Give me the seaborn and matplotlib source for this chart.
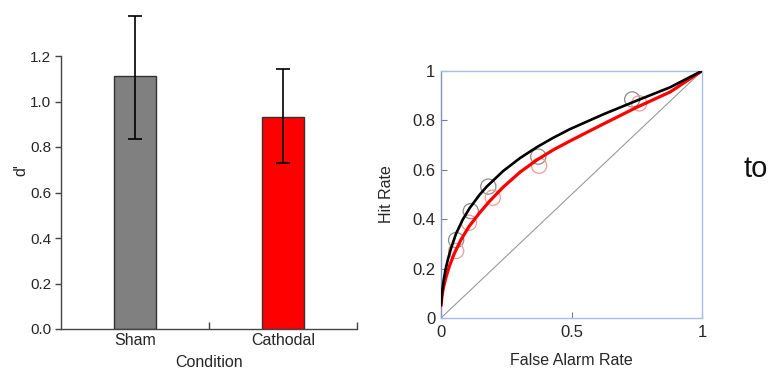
import matplotlib
matplotlib.use("Agg")
import matplotlib.pyplot as plt
import seaborn as sns
import pandas as pd

# Sensitivity (d') per condition with error-bar limits
conditions = ["Sham", "Cathodal"]
dprime = [1.112, 0.933]
err_top = [1.377, 1.141]
err_bottom = [0.835, 0.731]
bar_colors = ["#808080", "#ff0000"]

# Observed ROC points (false alarm rate, hit rate)
sham_fa = [0.059, 0.115, 0.182, 0.373, 0.732]
sham_hit = [0.316, 0.433, 0.532, 0.653, 0.884]
cath_fa = [0.059, 0.108, 0.199, 0.376, 0.759]
cath_hit = [0.272, 0.386, 0.487, 0.616, 0.868]

# Fitted ROC curves
sham_fit_fa = [0.001, 0.005, 0.010, 0.018, 0.028, 0.040, 0.058, 0.084, 0.110,
               0.148, 0.176, 0.239, 0.303, 0.367, 0.430, 0.494, 0.622, 0.749,
               0.877, 1.0]
sham_fit_hit = [0.054, 0.100, 0.145, 0.195, 0.240, 0.284, 0.340, 0.398, 0.444,
                0.498, 0.532, 0.595, 0.647, 0.691, 0.729, 0.764, 0.824, 0.879,
                0.933, 1.0]
cath_fit_fa = [0.001, 0.005, 0.010, 0.020, 0.033, 0.052, 0.078, 0.109, 0.148,
               0.186, 0.239, 0.303, 0.367, 0.430, 0.494, 0.622, 0.749, 0.877,
               1.0]
cath_fit_hit = [0.050, 0.090, 0.122, 0.165, 0.210, 0.262, 0.318, 0.372, 0.425,
                0.472, 0.530, 0.590, 0.639, 0.680, 0.716, 0.785, 0.852, 0.914,
                1.0]

sns.set_theme(style="ticks")
plt.rcParams["font.family"] = ["Liberation Sans", "DejaVu Sans"]
plt.rcParams["lines.solid_joinstyle"] = "round"

W, H = 771, 371
fig = plt.figure(figsize=(W / 100, H / 100), dpi=100)
fig.patch.set_facecolor("white")

# ---- Bar chart of d' ----
ax1 = fig.add_axes([61 / W, 42 / H, 296 / W, 318.5 / H])
df = pd.DataFrame({"Condition": conditions, "d'": dprime})
sns.barplot(data=df, x="Condition", y="d'", hue="Condition", palette=bar_colors,
            saturation=1, width=0.285, edgecolor="#333333", linewidth=1.0,
            errorbar=None, legend=False, ax=ax1)
yerr = [[d - lo for d, lo in zip(dprime, err_bottom)],
        [hi - d for d, hi in zip(dprime, err_top)]]
ax1.errorbar(x=[0, 1], y=dprime, yerr=yerr, fmt="none", ecolor="black",
             elinewidth=1.2, capsize=5, capthick=1.2, zorder=5)
ax1.set_xlim(-0.5, 1.5)
ax1.set_ylim(0, 1.4)
ax1.set_yticks([0, 0.2, 0.4, 0.6, 0.8, 1.0, 1.2])
ax1.set_yticklabels(["0.0", "0.2", "0.4", "0.6", "0.8", "1.0", "1.2"])
ax1.spines["top"].set_visible(False)
ax1.spines["right"].set_visible(False)
ax1.spines["left"].set_bounds(0, 1.2)
for s in ("left", "bottom"):
    ax1.spines[s].set_color("#444444")
    ax1.spines[s].set_linewidth(1.0)
ax1.tick_params(axis="y", direction="out", length=4, width=1, color="#444444",
                labelsize=11, pad=3)
ax1.tick_params(axis="x", which="major", length=0, labelsize=11.5, pad=3)
ax1.set_xticks([0.5, 1.5], minor=True)
ax1.tick_params(axis="x", which="minor", direction="in", length=5, width=1,
                color="#444444")
ax1.set_xlabel("Condition", fontsize=11.5, labelpad=5)
ax1.set_ylabel("d'", fontsize=11.5, labelpad=1)
ax1.set_facecolor("white")

# ---- ROC curves ----
ax2 = fig.add_axes([440.7 / W, 52.7 / H, 261.6 / W, 247.6 / H])
ax2.set_facecolor("white")
ax2.plot([0, 1], [0, 1], color="#9a9a9a", linewidth=0.8, zorder=1)
sns.scatterplot(x=sham_fa, y=sham_hit, marker="o", s=120, facecolors="none",
                edgecolors="#8c8c8c", linewidth=0.9, ax=ax2, zorder=2)
sns.scatterplot(x=cath_fa, y=cath_hit, marker="o", s=120, facecolors="none",
                edgecolors="#f29a9a", linewidth=0.9, ax=ax2, zorder=2)
sns.lineplot(x=cath_fit_fa, y=cath_fit_hit, sort=False, color="#ff0000",
             linewidth=2.3, ax=ax2, zorder=3)
sns.lineplot(x=sham_fit_fa, y=sham_fit_hit, sort=False, color="#000000",
             linewidth=1.9, ax=ax2, zorder=4)
ax2.set_xlim(0, 1)
ax2.set_ylim(0, 1)
ax2.set_xticks([0, 0.5, 1])
ax2.set_xticklabels(["0", "0.5", "1"])
ax2.set_yticks([0, 0.2, 0.4, 0.6, 0.8, 1])
ax2.set_yticklabels(["0", "0.2", "0.4", "0.6", "0.8", "1"])
for s in ("top", "right", "bottom"):
    ax2.spines[s].set_color("#a9bde9")
    ax2.spines[s].set_linewidth(1.0)
ax2.spines["left"].set_color("#8393bd")
ax2.spines["left"].set_linewidth(1.0)
ax2.tick_params(axis="both", direction="in", length=4, width=0.8,
                color="#6f7f99", labelsize=12)
ax2.tick_params(axis="x", pad=5)
ax2.tick_params(axis="y", pad=4)
ax2.set_xlabel("False Alarm Rate", fontsize=11.5, labelpad=9)
ax2.set_ylabel("Hit Rate", fontsize=11.5, labelpad=13)

fig.text(743 / W, (H - 176.7) / H, "to", fontsize=21, ha="left",
         va="baseline", color="#111111")

fig.savefig("out.png", dpi=100, facecolor="white")
